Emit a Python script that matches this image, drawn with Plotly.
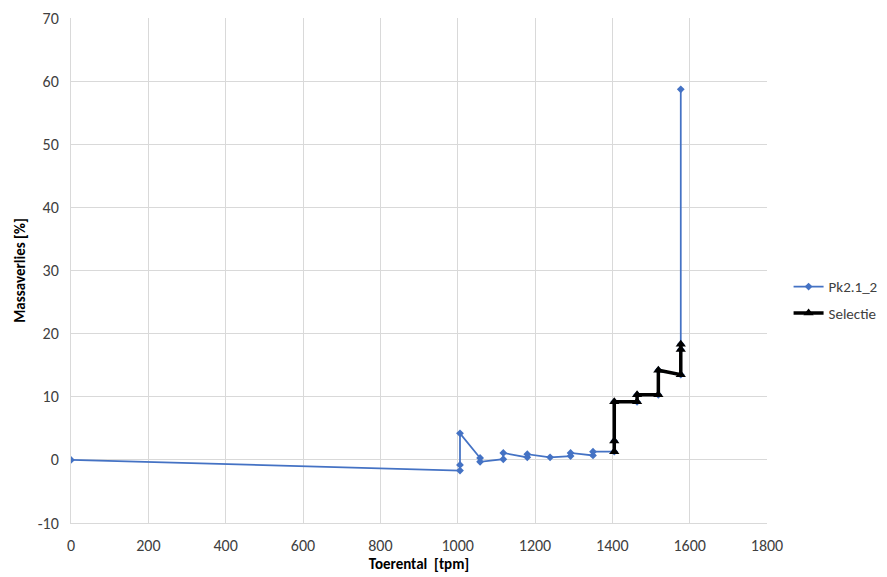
import plotly.graph_objects as go

# Pk2.1_2 series (speed [tpm], mass loss [%])
pk_x = [0, 1006, 1006, 1006, 1058, 1058, 1118, 1118, 1180, 1180, 1239, 1292, 1292,
        1350, 1350, 1405, 1405, 1405, 1464, 1464, 1519, 1519, 1577, 1577, 1577, 1577]
pk_y = [0.0, -1.7, -0.8, 4.2, 0.3, -0.3, 0.1, 1.1, 0.4, 0.9, 0.4, 0.6, 1.1,
        0.7, 1.3, 1.3, 3.0, 9.2, 9.2, 10.3, 10.3, 14.2, 13.5, 17.5, 18.3, 58.7]

# Selectie series
sel_x = [1405, 1405, 1405, 1464, 1464, 1519, 1519, 1577, 1577, 1577]
sel_y = [1.3, 3.0, 9.2, 9.2, 10.3, 10.3, 14.2, 13.5, 17.5, 18.3]

x_ticks = [0, 200, 400, 600, 800, 1000, 1200, 1400, 1600, 1800]
y_ticks = [-10, 0, 10, 20, 30, 40, 50, 60, 70]

FONT = "Carlito, Calibri, 'Open Sans', 'Liberation Sans', sans-serif"

fig = go.Figure()
fig.add_trace(go.Scatter(
    x=pk_x, y=pk_y, mode="lines+markers", name="Pk2.1_2", legendgroup="a",
    line=dict(color="#4472C4", width=1.75),
    marker=dict(symbol="diamond", size=6, color="#4472C4"),
))
fig.add_trace(go.Scatter(
    x=sel_x, y=sel_y, mode="lines+markers", name="Selectie", legendgroup="b",
    line=dict(color="black", width=3.5),
    marker=dict(symbol="triangle-up", size=9, color="black"),
))

grid = "#d9d9d9"
fig.update_layout(
    width=887, height=577,
    margin=dict(l=63, r=128, t=10, b=62, autoexpand=False),
    paper_bgcolor="white", plot_bgcolor="white",
    font=dict(family=FONT, size=16, color="#404040"),
    showlegend=True,
    legend=dict(x=1.031, y=0.442, xanchor="left", yanchor="middle",
                font=dict(size=15, color="#404040"), itemwidth=30,
                tracegroupgap=4, bgcolor="rgba(0,0,0,0)"),
    xaxis=dict(range=[0, 1800], tickvals=x_ticks, ticktext=[str(v) for v in x_ticks],
               showgrid=True, gridcolor=grid, gridwidth=1, zeroline=False,
               showline=True, linecolor=grid, ticks="", automargin=False,
               ticklabelstandoff=8,
               title=dict(text="<b>Toerental  [tpm]</b>", standoff=4,
                          font=dict(size=15, color="#000000")),
               ),
    yaxis=dict(range=[-10, 70], tickvals=y_ticks, ticktext=[str(v) for v in y_ticks],
               showgrid=True, gridcolor=grid, gridwidth=1, zeroline=False,
               showline=True, linecolor=grid, ticks="", automargin=False,
               ticklabelstandoff=8,
               title=dict(text="<b>Massaverlies [%]</b>", standoff=8,
                          font=dict(size=15, color="#000000")),
               ),
)

fig.write_html("out.html")
